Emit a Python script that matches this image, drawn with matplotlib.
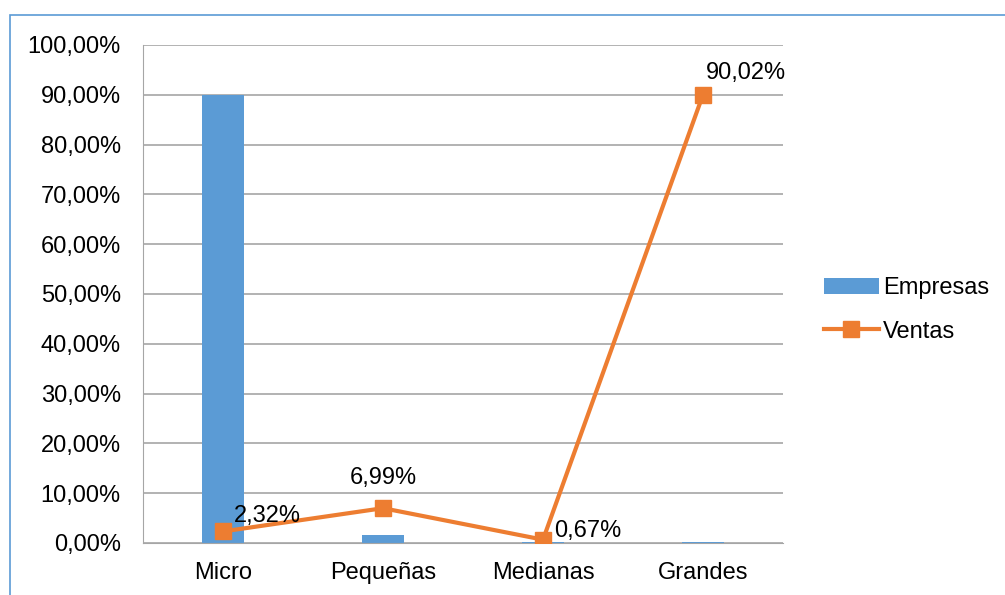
import matplotlib.pyplot as plt
import numpy as np
from matplotlib.patches import Rectangle

plt.rcParams["font.family"] = ["Liberation Sans", "DejaVu Sans"]

categorias = ["Micro", "Pequeñas", "Medianas", "Grandes"]
empresas = [90.0, 1.6, 0.2, 0.3]
ventas = [2.32, 6.99, 0.67, 90.02]
etiquetas_ventas = ["2,32%", "6,99%", "0,67%", "90,02%"]

AZUL = "#5b9bd5"
NARANJA = "#ed7d31"

fig = plt.figure(figsize=(10.05, 5.95), dpi=100)
ax = fig.add_axes([143 / 1005, 1 - 543 / 595, 640 / 1005, 498 / 595])

# borde del área del gráfico
fig.patches.append(Rectangle((10 / 1005, -0.1), 1.1, 1 - 15 / 595 + 0.1,
                             transform=fig.transFigure, fill=False,
                             edgecolor=AZUL, linewidth=1.2))

x = np.arange(len(categorias))
barras = ax.bar(x, empresas, width=0.26, color=AZUL, label="Empresas", zorder=2)
linea, = ax.plot(x, ventas, color=NARANJA, linewidth=3, marker="s", markersize=11,
                 label="Ventas", zorder=3)

# etiquetas de datos
desplaz = [(8, 3), (0, 14), (8, -2), (2, 8)]
alin = [("left", "bottom"), ("center", "bottom"), ("left", "bottom"), ("left", "bottom")]
for xi, yi, txt, d, (ha, va) in zip(x, ventas, etiquetas_ventas, desplaz, alin):
    ax.annotate(txt, (xi, yi), xytext=d, textcoords="offset points",
                ha=ha, va=va, fontsize=17, zorder=4)

ax.set_xlim(-0.5, 3.5)
ax.set_ylim(0, 100)
ax.set_yticks(np.arange(0, 101, 10))
ax.set_yticklabels([f"{v},00%" for v in range(0, 101, 10)], fontsize=17)
ax.set_xticks(x)
ax.set_xticklabels(categorias, fontsize=17)
ax.tick_params(axis="y", length=0, pad=16)
ax.tick_params(axis="x", length=0, pad=14)
ax.grid(axis="y", color="#a6a6a6", linewidth=1.2, zorder=0)
for lado in ["top", "right"]:
    ax.spines[lado].set_visible(False)
ax.spines["left"].set_color("#a6a6a6")
ax.spines["bottom"].set_color("#a6a6a6")

fig.legend([barras, linea], ["Empresas", "Ventas"], loc="center left",
           bbox_to_anchor=(803 / 1005, 1 - 310 / 595),
           frameon=False, fontsize=17, handlelength=2.3, handletextpad=0.2,
           labelspacing=0.9)

fig.savefig("out.png", dpi=100)
